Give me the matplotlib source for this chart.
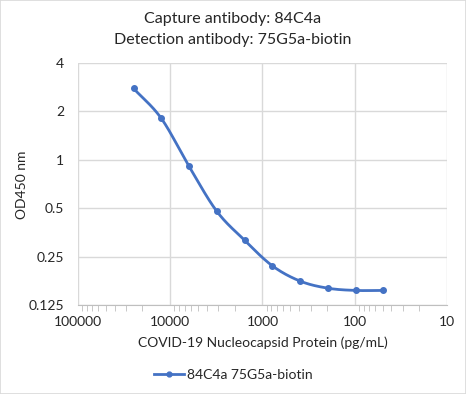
import numpy as np
import matplotlib.pyplot as plt
from matplotlib.ticker import FixedLocator, FixedFormatter, LogLocator, NullFormatter

# Data
conc = [25000, 12500, 6250, 3125, 1562.5, 781.25, 390.6, 195.3, 97.7, 48.8]
od450 = [2.78, 1.81, 0.91, 0.478, 0.316, 0.219, 0.176, 0.159, 0.154, 0.154]
yticks = [0.125, 0.25, 0.5, 1, 2, 4]
ytick_labels = ['0.125', '0.25', '0.5', '1', '2', '4']
xticks = [100000, 10000, 1000, 100, 10]
xtick_labels = ['100000', '10000', '1000', '100', '10']
series_name = '84C4a 75G5a-biotin'

blue = '#4472C4'
grid_c = '#D9D9D9'
text_c = '#262626'

plt.rcParams['font.family'] = ['Lato', 'DejaVu Sans']


def smooth(x, y, n=30):
    # Catmull-Rom spline in log space, like Excel's smoothed line
    lx, ly = np.log10(x), np.log2(y)
    px = np.concatenate([[2 * lx[0] - lx[1]], lx, [2 * lx[-1] - lx[-2]]])
    py = np.concatenate([[2 * ly[0] - ly[1]], ly, [2 * ly[-1] - ly[-2]]])
    ox, oy = [], []
    t = np.linspace(0, 1, n)
    for i in range(1, len(px) - 2):
        for p, out in ((px, ox), (py, oy)):
            p0, p1, p2, p3 = p[i - 1], p[i], p[i + 1], p[i + 2]
            out.extend(0.5 * (2 * p1 + (-p0 + p2) * t
                              + (2 * p0 - 5 * p1 + 4 * p2 - p3) * t ** 2
                              + (-p0 + 3 * p1 - 3 * p2 + p3) * t ** 3))
    return 10 ** np.array(ox), 2 ** np.array(oy)


fig = plt.figure(figsize=(4.66, 3.94), dpi=100)
fig.patches.append(plt.Rectangle((0, 0), 1, 1, transform=fig.transFigure,
                                 fill=False, edgecolor=grid_c, lw=1.2))
ax = fig.add_axes([0.1674, 0.2259, 0.7918, 0.6141])

sx, sy = smooth(conc, od450)
ax.plot(sx, sy, color=blue, lw=2, solid_capstyle='round')
ax.plot(conc, od450, 'o', color=blue, ms=4, label=None)
ax.plot([], [], '-o', color=blue, lw=2, ms=3.5, label=series_name)

ax.set_xscale('log')
ax.set_yscale('log', base=2)
ax.set_xlim(100000, 10)
ax.set_ylim(0.125, 4)

ax.xaxis.set_major_locator(FixedLocator(xticks))
ax.xaxis.set_major_formatter(FixedFormatter(xtick_labels))
ax.xaxis.set_minor_locator(LogLocator(base=10, subs=np.arange(2, 10)))
ax.xaxis.set_minor_formatter(NullFormatter())
ax.yaxis.set_major_locator(FixedLocator(yticks))
ax.yaxis.set_major_formatter(FixedFormatter(ytick_labels))
ax.yaxis.set_minor_locator(FixedLocator([]))

ax.grid(True, which='major', color=grid_c, lw=1)
ax.set_axisbelow(True)
for s in ['left', 'right', 'top']:
    ax.spines[s].set_visible(False)
ax.spines['bottom'].set_color('#BFBFBF')
ax.tick_params(axis='x', which='major', length=0, pad=8, labelsize=10, colors=text_c)
ax.tick_params(axis='x', which='minor', length=4, color='#BFBFBF', direction='out')
ax.tick_params(axis='y', which='major', length=0, pad=10, labelsize=10, colors=text_c)

ax.set_xlabel('COVID-19 Nucleocapsid Protein (pg/mL)', fontsize=10, color=text_c, labelpad=6)
fig.text(0.047, 0.532, 'OD450 nm', rotation=90, ha='center', va='center', fontsize=10, color=text_c)

fig.text(0.5, 0.952, 'Capture antibody: 84C4a', ha='center', va='center', fontsize=11.5, color=text_c)
fig.text(0.5, 0.898, 'Detection antibody: 75G5a-biotin', ha='center', va='center', fontsize=11.5, color=text_c)

fig.legend(loc='center', bbox_to_anchor=(0.5, 0.048), frameon=False, fontsize=10,
           handlelength=2.2, handletextpad=0.2, labelcolor=text_c)

fig.savefig('out.png', dpi=100)
